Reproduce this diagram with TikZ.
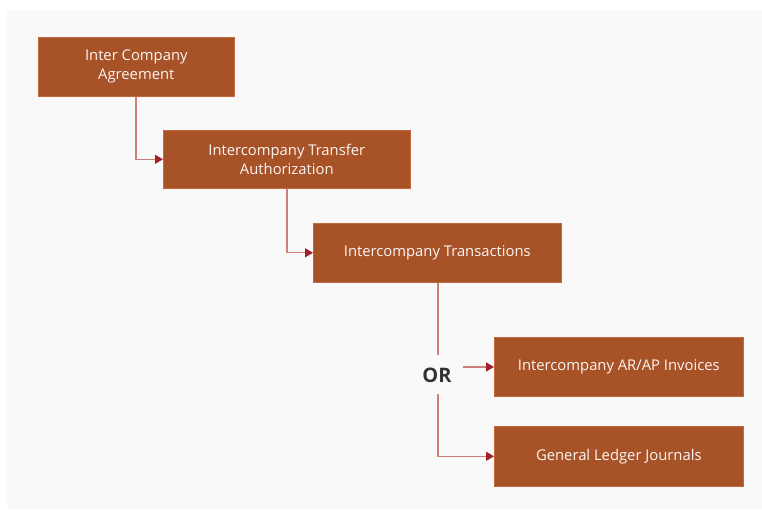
\documentclass[tikz,border=0pt]{standalone}
\usepackage{fontspec}
\setmainfont{Open Sans}
\usetikzlibrary{arrows.meta}
\definecolor{boxfill}{HTML}{A85228}
\definecolor{boxedge}{HTML}{C4683F}
\definecolor{linec}{HTML}{CF7F7A}
\definecolor{arrowc}{HTML}{A3202A}
\definecolor{panel}{HTML}{F9F9F9}
\definecolor{ortext}{HTML}{333333}
\begin{document}
\begin{tikzpicture}[x=1pt,y=-1pt,
  boxnode/.style={draw=boxedge,line width=0.6pt,fill=boxfill,text=white!95!boxfill,
    font=\fontsize{14.8}{19}\selectfont,align=center,inner sep=0pt,anchor=north west},
  conn/.style={draw=linec,line width=1.3pt,
    -{Triangle[length=8pt,width=9pt,color=arrowc]}}]
\useasboundingbox (0,0) rectangle (762,510);
\fill[white] (0,0) rectangle (762,510);
\fill[panel] (7,10) rectangle (762,509);
\node[boxnode,minimum width=196pt,minimum height=59pt] (a) at (38,37) {Inter Company\\Agreement};
\node[boxnode,minimum width=247pt,minimum height=58pt] (b) at (163,130) {Intercompany Transfer\\Authorization};
\node[boxnode,minimum width=248pt,minimum height=59pt] (c) at (313,223) {Intercompany Transactions};
\node[boxnode,minimum width=249pt,minimum height=59pt] (d) at (494,337) {Intercompany AR/AP Invoices};
\node[boxnode,minimum width=249pt,minimum height=60pt] (e) at (494,426) {General Ledger Journals};
\node[font=\fontsize{20}{22}\selectfont\bfseries,text=ortext,inner sep=0pt] (or) at (437,375) {OR};
\draw[conn] (a.south -| 136,0) |- (b.west);
\draw[conn] (b.south -| 287,0) |- (c.west);
\draw[draw=linec,line width=1.3pt] (c.south -| 438,0) -- (438,355);
\draw[conn] (438,394) |- (e.west);
\draw[conn] (463,367) -- (d.west |- 0,367);
\end{tikzpicture}
\end{document}
